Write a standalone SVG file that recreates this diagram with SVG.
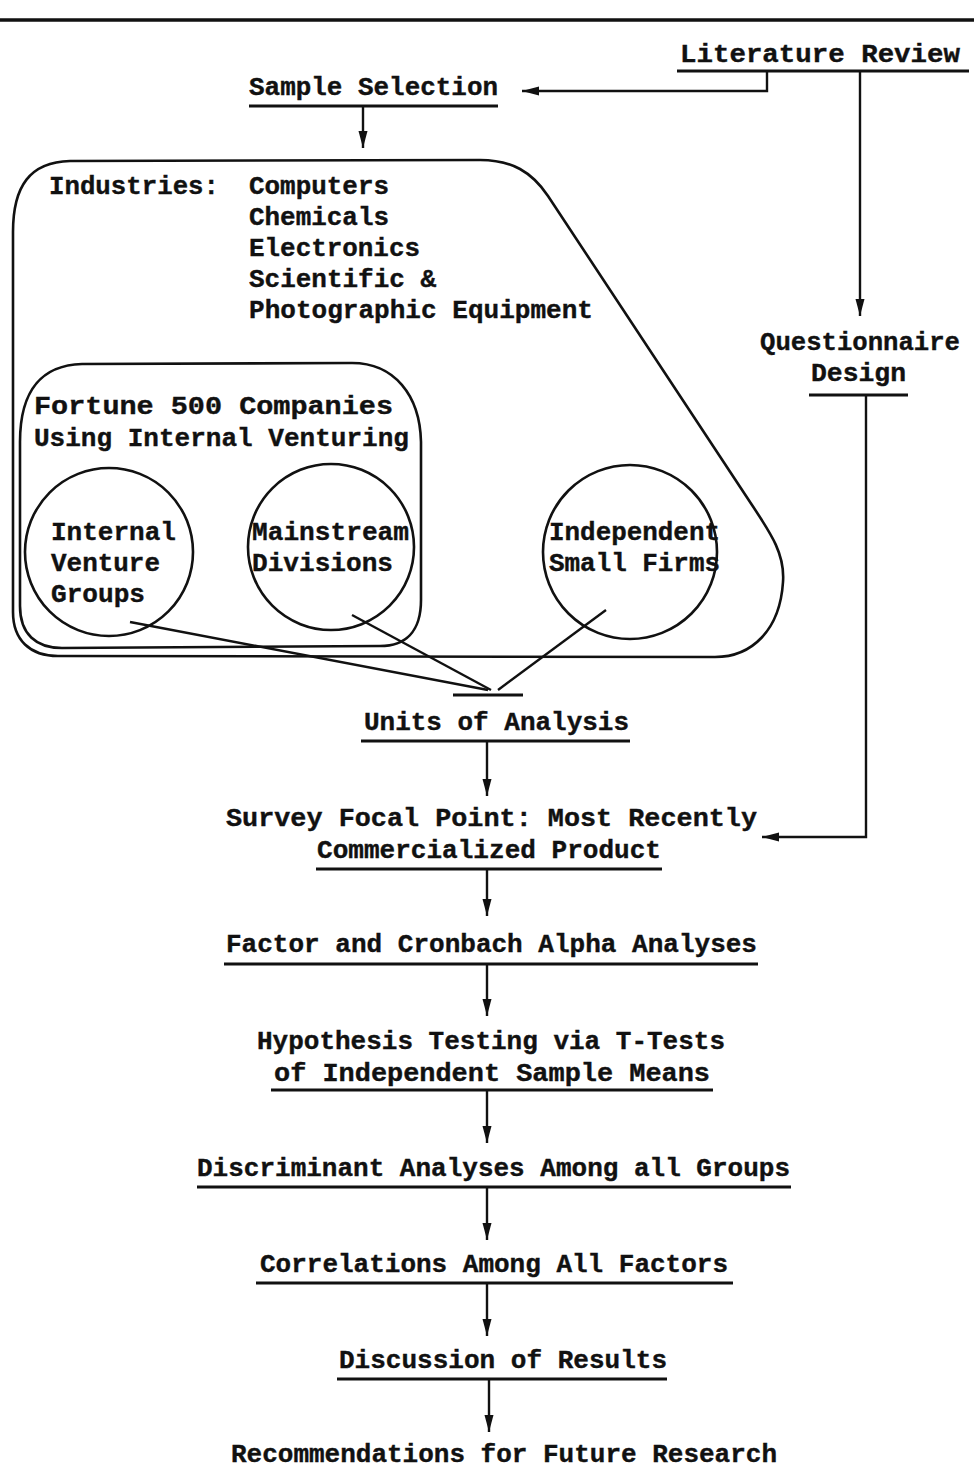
<svg xmlns="http://www.w3.org/2000/svg" width="974" height="1470" viewBox="0 0 974 1470">
  <style>
    .t { font-family: "Liberation Mono", "DejaVu Sans Mono", monospace; font-weight: bold; font-size: 26px; fill: #111; stroke: #111; stroke-width: 0.4; }
    .ln { fill: none; stroke: #111; stroke-width: 2.6; stroke-linecap: round; stroke-linejoin: round; }
    .ul { fill: none; stroke: #111; stroke-width: 3; }
    .arr { fill: none; stroke: #111; stroke-width: 2.4; marker-end: url(#head); }
    .con { fill: none; stroke: #111; stroke-width: 2.4; }
  </style>
  <defs>
    <marker id="head" markerUnits="userSpaceOnUse" markerWidth="18" markerHeight="12" refX="17" refY="6" orient="auto">
      <path d="M0,1.5 L17,6 L0,10.5 Z" fill="#111"/>
    </marker>
  </defs>
  <rect width="974" height="1470" fill="#fff"/>

  <!-- page rule -->
  <line x1="0" y1="20" x2="974" y2="20" stroke="#111" stroke-width="3.5"/>

  <!-- nodes -->
  <g id="literature-review">
    <text class="t" x="680" y="62" textLength="280" lengthAdjust="spacingAndGlyphs">Literature  Review</text>
    <line class="ul" x1="677" y1="71" x2="969" y2="71"/>
  </g>

  <g id="sample-selection">
    <text class="t" x="249" y="95" textLength="249" lengthAdjust="spacingAndGlyphs">Sample Selection</text>
    <line class="ul" x1="249" y1="106" x2="498" y2="106"/>
  </g>

  <g id="industries">
    <path class="ln" d="M13,232 C13,186 30,162 70,161 L480,160 C512,160 532,172 548,196 L752,505 C772,535 785,555 783,582 C780,630 752,657 715,657 L58,656 C30,656 13,640 13,612 Z"/>
    <text class="t" x="49" y="194" textLength="170" lengthAdjust="spacingAndGlyphs">Industries:</text>
    <text class="t" x="249" y="194" textLength="140" lengthAdjust="spacingAndGlyphs">Computers</text>
    <text class="t" x="249" y="225" textLength="140" lengthAdjust="spacingAndGlyphs">Chemicals</text>
    <text class="t" x="249" y="256" textLength="171" lengthAdjust="spacingAndGlyphs">Electronics</text>
    <text class="t" x="249" y="287" textLength="187" lengthAdjust="spacingAndGlyphs">Scientific &amp;</text>
    <text class="t" x="249" y="318" textLength="344" lengthAdjust="spacingAndGlyphs">Photographic Equipment</text>
  </g>

  <g id="fortune-500">
    <path class="ln" d="M20,442 C20,388 44,365 82,364 L352,363 C394,363 420,395 421,442 L421,600 C421,632 405,646 380,646 L62,648 C36,648 20,634 20,606 Z"/>
    <text class="t" x="34" y="414" textLength="359" lengthAdjust="spacingAndGlyphs">Fortune  500  Companies</text>
    <text class="t" x="34" y="446" textLength="375" lengthAdjust="spacingAndGlyphs">Using Internal Venturing</text>
  </g>

  <g id="internal-venture-groups">
    <circle class="ln" cx="109" cy="552" r="84"/>
    <text class="t" x="51" y="540" textLength="125" lengthAdjust="spacingAndGlyphs">Internal</text>
    <text class="t" x="51" y="571" textLength="109" lengthAdjust="spacingAndGlyphs">Venture</text>
    <text class="t" x="51" y="602" textLength="94" lengthAdjust="spacingAndGlyphs">Groups</text>
  </g>

  <g id="mainstream-divisions">
    <circle class="ln" cx="331" cy="547" r="83"/>
    <text class="t" x="252" y="540" textLength="157" lengthAdjust="spacingAndGlyphs">Mainstream</text>
    <text class="t" x="252" y="571" textLength="141" lengthAdjust="spacingAndGlyphs">Divisions</text>
  </g>

  <g id="independent-small-firms">
    <circle class="ln" cx="630" cy="552" r="87"/>
    <text class="t" x="549" y="540" textLength="171" lengthAdjust="spacingAndGlyphs">Independent</text>
    <text class="t" x="549" y="571" textLength="171" lengthAdjust="spacingAndGlyphs">Small Firms</text>
  </g>

  <g id="questionnaire-design">
    <text class="t" x="760" y="350" textLength="200" lengthAdjust="spacingAndGlyphs">Questionnaire</text>
    <text class="t" x="811" y="381" textLength="95" lengthAdjust="spacingAndGlyphs">Design</text>
    <line class="ul" x1="809" y1="395" x2="908" y2="395"/>
  </g>

  <g id="units-of-analysis">
    <line class="ul" x1="453" y1="695" x2="523" y2="695"/>
    <text class="t" x="364" y="730" textLength="265" lengthAdjust="spacingAndGlyphs">Units of Analysis</text>
    <line class="ul" x1="361" y1="741" x2="630" y2="741"/>
  </g>

  <g id="survey-focal-point">
    <text class="t" x="226" y="826" textLength="531" lengthAdjust="spacingAndGlyphs">Survey Focal Point:  Most Recently</text>
    <text class="t" x="317" y="858" textLength="344" lengthAdjust="spacingAndGlyphs">Commercialized Product</text>
    <line class="ul" x1="316" y1="869" x2="662" y2="869"/>
  </g>

  <g id="factor-analyses">
    <text class="t" x="226" y="952" textLength="531" lengthAdjust="spacingAndGlyphs">Factor and Cronbach Alpha Analyses</text>
    <line class="ul" x1="224" y1="964" x2="758" y2="964"/>
  </g>

  <g id="hypothesis-testing">
    <text class="t" x="257" y="1049" textLength="468" lengthAdjust="spacingAndGlyphs">Hypothesis Testing via T-Tests</text>
    <text class="t" x="274" y="1081" textLength="436" lengthAdjust="spacingAndGlyphs">of Independent Sample Means</text>
    <line class="ul" x1="271" y1="1090" x2="713" y2="1090"/>
  </g>

  <g id="discriminant-analyses">
    <text class="t" x="197" y="1176" textLength="593" lengthAdjust="spacingAndGlyphs">Discriminant Analyses Among all Groups</text>
    <line class="ul" x1="197" y1="1187" x2="791" y2="1187"/>
  </g>

  <g id="correlations">
    <text class="t" x="260" y="1272" textLength="468" lengthAdjust="spacingAndGlyphs">Correlations Among All Factors</text>
    <line class="ul" x1="256" y1="1283" x2="733" y2="1283"/>
  </g>

  <g id="discussion">
    <text class="t" x="339" y="1368" textLength="328" lengthAdjust="spacingAndGlyphs">Discussion of Results</text>
    <line class="ul" x1="337" y1="1379" x2="667" y2="1379"/>
  </g>

  <g id="recommendations">
    <text class="t" x="231" y="1462" textLength="546" lengthAdjust="spacingAndGlyphs">Recommendations for Future Research</text>
  </g>

  <!-- connectors -->
  <g id="connectors">
    <polyline class="arr" points="767,71 767,91 522,91"/>
    <line class="arr" x1="860" y1="71" x2="860" y2="316"/>
    <line class="arr" x1="363" y1="106" x2="363" y2="148"/>
    <polyline class="arr" points="866,395 866,837 762,837"/>
    <line class="con" x1="130" y1="622" x2="488" y2="690"/>
    <line class="con" x1="352" y1="615" x2="491" y2="690"/>
    <line class="con" x1="606" y1="610" x2="498" y2="690"/>
    <line class="arr" x1="487" y1="741" x2="487" y2="796"/>
    <line class="arr" x1="487" y1="869" x2="487" y2="916"/>
    <line class="arr" x1="487" y1="964" x2="487" y2="1016"/>
    <line class="arr" x1="487" y1="1090" x2="487" y2="1143"/>
    <line class="arr" x1="487" y1="1187" x2="487" y2="1240"/>
    <line class="arr" x1="487" y1="1283" x2="487" y2="1336"/>
    <line class="arr" x1="489" y1="1379" x2="489" y2="1432"/>
  </g>
</svg>
